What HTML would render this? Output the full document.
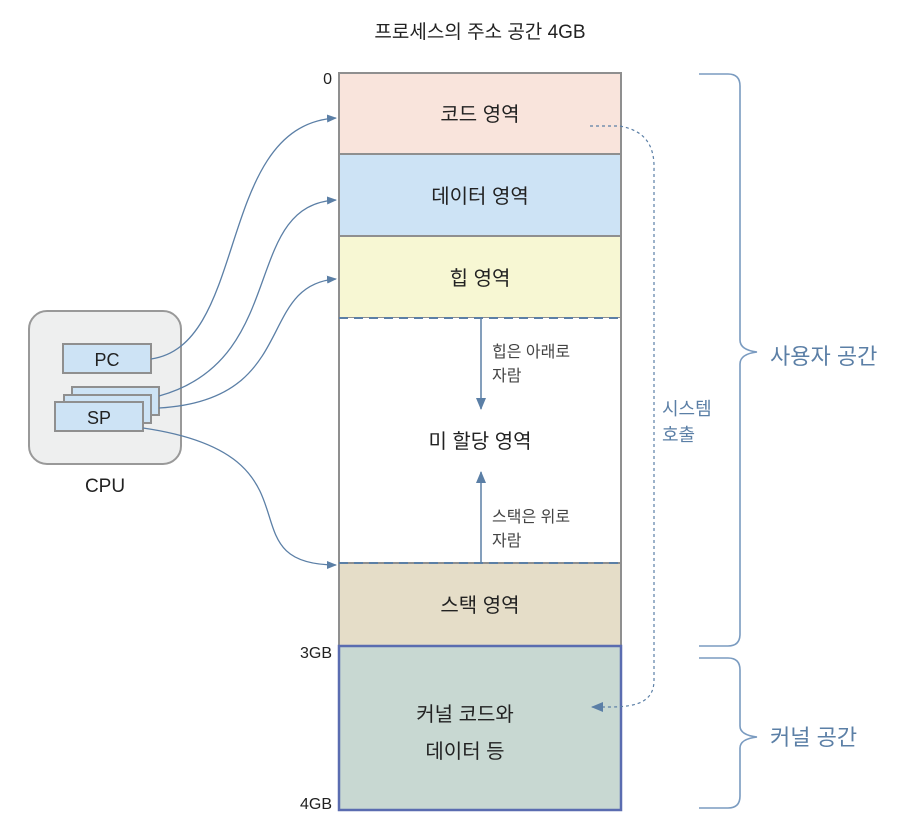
<!DOCTYPE html>
<html><head><meta charset="utf-8"><style>
html,body{margin:0;padding:0;background:#fff;width:924px;height:836px;overflow:hidden}
svg text{font-family:"Liberation Sans","Noto Sans CJK KR",sans-serif}
</style></head><body>
<svg width="924" height="836" viewBox="0 0 924 836" xmlns="http://www.w3.org/2000/svg">
<defs>
<marker id="ah" markerWidth="10" markerHeight="10" refX="9" refY="5" orient="auto" markerUnits="userSpaceOnUse">
<path d="M0,1 L10,5 L0,9 Z" fill="#5b7fa6"/></marker>
<marker id="ah2" markerWidth="12" markerHeight="12" refX="11" refY="6" orient="auto" markerUnits="userSpaceOnUse">
<path d="M0,1 L12,6 L0,11 Z" fill="#5b7fa6"/></marker>
</defs>
<text x="480" y="38" font-size="19" text-anchor="middle" fill="#222">프로세스의 주소 공간 4GB</text>
<!-- column -->
<rect x="339" y="73" width="282" height="81" fill="#f9e4dc" stroke="#8f8f8f" stroke-width="2"/>
<rect x="339" y="154" width="282" height="82" fill="#cde3f5" stroke="#8f8f8f" stroke-width="2"/>
<rect x="339" y="236" width="282" height="82" fill="#f7f7d3" stroke="#8f8f8f" stroke-width="2"/>
<rect x="339" y="318" width="282" height="245" fill="#fff"/>
<line x1="339" y1="318" x2="339" y2="563" stroke="#8f8f8f" stroke-width="2"/>
<line x1="621" y1="318" x2="621" y2="563" stroke="#8f8f8f" stroke-width="2"/>
<rect x="339" y="563" width="282" height="83" fill="#e5ddc8" stroke="#8f8f8f" stroke-width="2"/>
<line x1="339" y1="318" x2="621" y2="318" stroke="#5b7fa6" stroke-width="2" stroke-dasharray="9,6"/>
<line x1="339" y1="563" x2="621" y2="563" stroke="#5b7fa6" stroke-width="2" stroke-dasharray="9,6"/>
<rect x="339" y="646" width="282" height="164" fill="#c8d8d2" stroke="#5a6cb0" stroke-width="2.5"/>
<g font-size="20" fill="#222" text-anchor="middle">
<text x="480" y="121">코드 영역</text>
<text x="480" y="203">데이터 영역</text>
<text x="480" y="285">힙 영역</text>
<text x="480" y="448">미 할당 영역</text>
<text x="480" y="612">스택 영역</text>
<text x="465" y="721">커널 코드와</text>
<text x="465" y="758">데이터 등</text>
</g>
<g font-size="16" fill="#444">
<text x="492" y="357">힙은 아래로</text><text x="492" y="381">자람</text>
<text x="492" y="522">스택은 위로</text><text x="492" y="546">자람</text>
</g>
<line x1="481" y1="318" x2="481" y2="409" stroke="#5b7fa6" stroke-width="1.5" marker-end="url(#ah2)"/>
<line x1="481" y1="563" x2="481" y2="472" stroke="#5b7fa6" stroke-width="1.5" marker-end="url(#ah2)"/>
<g font-family="Liberation Mono" font-size="16" fill="#222" text-anchor="end">
<text x="332" y="84" font-family="Liberation Mono,monospace">0</text>
<text x="332" y="658" font-family="Liberation Sans,sans-serif">3GB</text>
<text x="332" y="809" font-family="Liberation Sans,sans-serif">4GB</text>
</g>
<!-- system call -->
<path d="M590,126 L620,126 C640,130 655,140 654,170 L654,680 C654,700 640,707 610,707 L592,707" fill="none" stroke="#5b7fa6" stroke-width="1.2" stroke-dasharray="3,3" marker-end="url(#ah2)"/>
<text x="662" y="415" font-size="18" fill="#5b7fa6">시스템</text>
<text x="662" y="441" font-size="18" fill="#5b7fa6">호출</text>
<!-- braces -->
<path d="M699,74 L728,74 Q740,74 740,86 L740,340 Q740,350 757,352 Q740,354 740,364 L740,634 Q740,646 728,646 L699,646" fill="none" stroke="#7a9bc0" stroke-width="1.6"/>
<path d="M699,658 L728,658 Q740,658 740,670 L740,726 Q740,735 757,737 Q740,739 740,748 L740,796 Q740,808 728,808 L699,808" fill="none" stroke="#7a9bc0" stroke-width="1.6"/>
<text x="770" y="364" font-size="22" fill="#5b7fa6">사용자 공간</text>
<text x="770" y="745" font-size="22" fill="#5b7fa6">커널 공간</text>
<!-- CPU -->
<rect x="29" y="311" width="152" height="153" rx="18" fill="#eeefef" stroke="#999" stroke-width="2"/>
<rect x="63" y="344" width="88" height="29" fill="#cde3f5" stroke="#8f8f8f" stroke-width="2"/>
<text x="107" y="366" font-size="18" text-anchor="middle" fill="#222">PC</text>
<rect x="72" y="387" width="87" height="28" fill="#cde3f5" stroke="#8f8f8f" stroke-width="2"/>
<rect x="64" y="395" width="87" height="28" fill="#cde3f5" stroke="#8f8f8f" stroke-width="2"/>
<rect x="55" y="402" width="88" height="29" fill="#cde3f5" stroke="#8f8f8f" stroke-width="2"/>
<text x="99" y="424" font-size="18" text-anchor="middle" fill="#222">SP</text>
<text x="105" y="492" font-size="19" text-anchor="middle" fill="#222">CPU</text>
<!-- connectors -->
<g fill="none" stroke="#5b7fa6" stroke-width="1.3">
<path d="M151,359 C250,345 215,125 336,118" marker-end="url(#ah)"/>
<path d="M159,396 C290,360 240,205 336,200" marker-end="url(#ah)"/>
<path d="M159,408 C300,400 255,285 336,279" marker-end="url(#ah)"/>
<path d="M143,428 C330,455 220,565 336,565" marker-end="url(#ah)"/>
</g>
</svg>
</body></html>
